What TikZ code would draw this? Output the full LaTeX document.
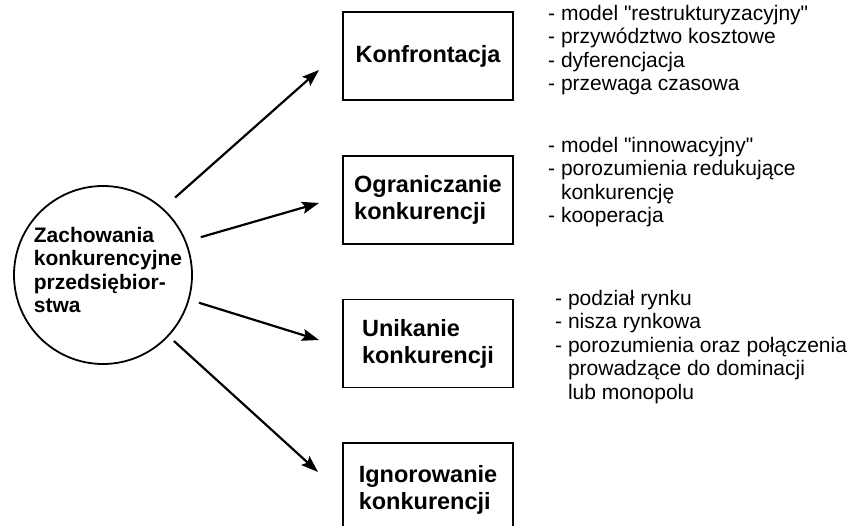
\documentclass[tikz,border=0pt]{standalone}
\usepackage{fontspec}
\setmainfont{Liberation Sans}[Ligatures=TeXOff]
\usetikzlibrary{arrows.meta,positioning}
\newcommand{\ind}{\hphantom{- }}

\begin{document}
\begin{tikzpicture}[x=1pt,y=-1pt,node distance=54pt, every node/.style={font=\fontsize{21}{23.5}\selectfont}, box/.style={draw,line width=1.8pt,minimum width=170pt,minimum height=88pt,align=left,font=\fontsize{23.5}{27}\selectfont\bfseries}, list/.style={anchor=north west,inner sep=0pt,align=left}, arr/.style={-{Stealth[length=17pt,width=12pt,inset=3pt]},line width=2.2pt}]
\useasboundingbox (0,0) rectangle (849,526);
\node[circle,draw,line width=1.8pt,minimum size=178pt] (firm) at (103,275) {};
\node[align=left,font=\fontsize{21}{23.5}\selectfont\bfseries] (firmtxt) at (108,270) {Zachowania\\konkurencyjne\\przedsiębior-\\stwa};
\node[box] (konf) at (428,56) {Konfrontacja};
\node[box,below=of konf] (ogr) {Ograniczanie\\konkurencji};
\node[box,below=of ogr] (unik) {Unikanie\\konkurencji};
\node[box,below=of unik,minimum height=94pt] (ign) {Ignorowanie\\konkurencji};
\node[list] (konflist) at (548,5) {- model "restrukturyzacyjny"\\- przywództwo kosztowe\\- dyferencjacja\\- przewaga czasowa};
\node[list] (ogrlist) at (548,137) {- model "innowacyjny"\\- porozumienia redukujące\\\ind konkurencję\\- kooperacja};
\node[list] (uniklist) at (555,290) {- podział rynku\\- nisza rynkowa\\- porozumienia oraz połączenia\\\ind prowadzące do dominacji\\\ind lub monopolu};
\coordinate (t1) at (319,70); \coordinate (t2) at (319,203); \coordinate (t3) at (319,340); \coordinate (t4) at (318,472);
\draw[arr,shorten <=16pt] (firm.48)--(t1);\draw[arr,shorten <=15pt] (firm.22)--(t2);\draw[arr,shorten <=10pt] (firm.-16)--(t3);\draw[arr,shorten <=7pt] (firm.-43)--(t4);
\end{tikzpicture}
\end{document}
